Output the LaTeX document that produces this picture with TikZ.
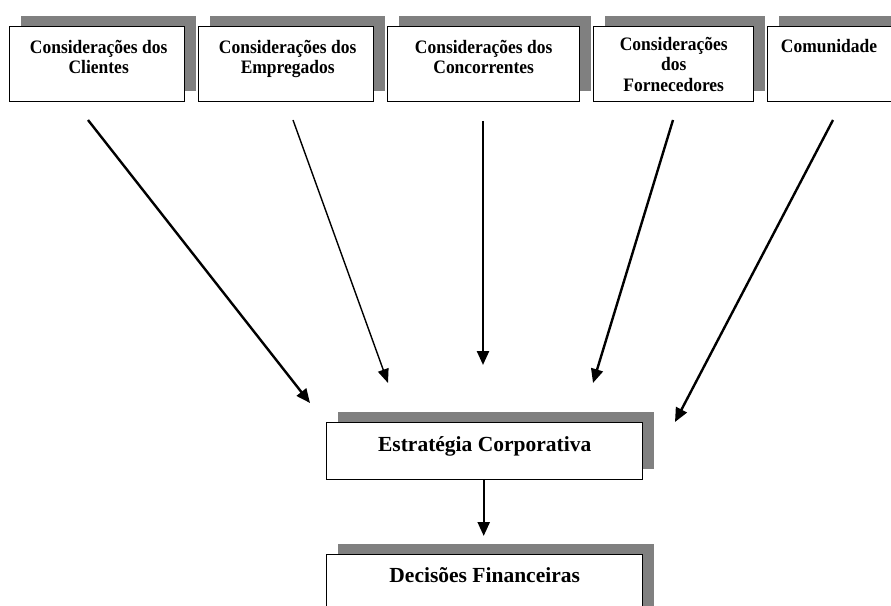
\documentclass[tikz,border=0pt]{standalone}
\usepackage{fontspec}
\setmainfont{Liberation Serif}
\newfontfamily\narrowserif{Liberation Serif}[FakeStretch=0.92]
\usetikzlibrary{arrows.meta,shadows,calc}
\definecolor{shade}{HTML}{808080}
\begin{document}
\begin{tikzpicture}[x=1bp,y=-1bp,
  card/.style={rectangle, draw=black, line width=1.4bp, fill=white, inner sep=0pt,
    anchor=north west,
    drop shadow={shadow xshift=11.5bp, shadow yshift=11bp, fill=shade, opacity=1}},
  toptext/.style={font=\narrowserif\bfseries\fontsize{19bp}{20.5bp}\selectfont, align=center,
    inner sep=0pt, anchor=north},
  midtext/.style={font=\bfseries\fontsize{21.5bp}{24bp}\selectfont, inner sep=0pt,
    anchor=base},
  flow/.style={line width=2.4bp, -{Triangle[length=14bp,width=12bp]}},
  thinflow/.style={line width=1.4bp, -{Triangle[length=14bp,width=11bp]}}
]
\useasboundingbox (0,0) rectangle (891,606);
\clip (0,0) rectangle (891,606);

% stakeholder boxes along the top
\node[card, minimum width=175bp, minimum height=75bp] (cli) at (9,26) {};
\node[card, minimum width=175bp, minimum height=75bp] (emp) at (198,26) {};
\node[card, minimum width=192bp, minimum height=75bp] (con) at (387,26) {};
\node[card, minimum width=160bp, minimum height=75bp] (for) at (593,26) {};
\node[card, minimum width=175bp, minimum height=75bp] (com) at (767,26) {};

\node[toptext] (tcli) at ($(cli.north)+(1.5,14)$) {Considerações dos\\Clientes};
\node[toptext] (temp) at ($(emp.north)+(1.5,14)$) {Considerações dos\\Empregados};
\node[toptext] (tcon) at ($(con.north)+(0,14)$) {Considerações dos\\Concorrentes};
\node[toptext] (tfor) at ($(for.north)+(0,11)$) {Considerações\\dos\\Fornecedores};
\node[toptext] (tcom) at ($(com.north west)+(62,13)$) {Comunidade};

% strategy and decisions
\node[card, minimum width=316bp, minimum height=57bp] (strat) at (326,422) {};
\node[card, minimum width=316bp, minimum height=75bp] (dec) at (326,554) {};
\node[midtext] (tstrat) at ($(strat.north)+(0,29)$) {Estratégia Corporativa};
\node[midtext] (tdec) at ($(dec.north)+(0,28.5)$) {Decisões Financeiras};

% arrow ends
\coordinate (s1) at (88,120);  \coordinate (e1) at (310,403);
\coordinate (s2) at (293,120); \coordinate (e2) at (388,383);
\coordinate (s3) at (483,121); \coordinate (e3) at (483,365);
\coordinate (s4) at (673,120); \coordinate (e4) at (593,383);
\coordinate (s5) at (833,120); \coordinate (e5) at (675,422);

\draw[flow] (s1) -- (e1);
\draw[thinflow] (s2) -- (e2);
\draw[flow] (s3) -- (e3);
\draw[flow] (s4) -- (e4);
\draw[flow] (s5) -- (e5);
\draw[flow, shorten >=18bp] ($(strat.south)+(-1,0)$) -- ($(dec.north)+(-1,0)$);
\end{tikzpicture}
\end{document}
